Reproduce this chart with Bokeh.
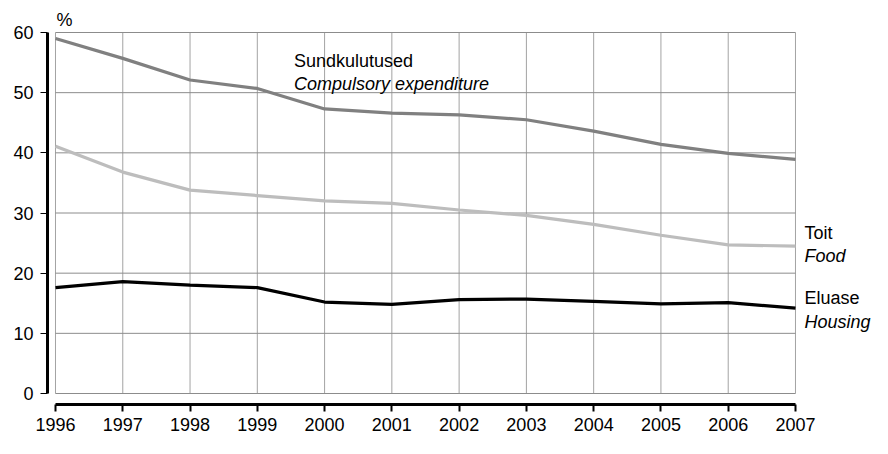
from bokeh.plotting import figure
from bokeh.models import Range1d, FixedTicker, Label, ColumnDataSource
from bokeh.embed import file_html
from bokeh.resources import INLINE

years = [1996, 1997, 1998, 1999, 2000, 2001, 2002, 2003, 2004, 2005, 2006, 2007]
compulsory = [59.0, 55.7, 52.1, 50.7, 47.3, 46.6, 46.3, 45.5, 43.6, 41.4, 39.9, 38.9]
food = [41.1, 36.8, 33.8, 32.9, 32.0, 31.6, 30.5, 29.6, 28.1, 26.3, 24.7, 24.5]
housing = [17.6, 18.6, 18.0, 17.6, 15.2, 14.8, 15.6, 15.7, 15.3, 14.9, 15.1, 14.2]
y_ticks = [0, 10, 20, 30, 40, 50, 60]

FONT = "Liberation Sans"
FS = "18px"

p = figure(width=872, height=438, output_backend="svg", toolbar_location=None,
           x_range=Range1d(1995.8811, 2008.145), y_range=Range1d(-1.828, 65.319),
           min_border_left=47, min_border_right=0, min_border_top=0, min_border_bottom=34)
p.outline_line_color = None
p.xgrid.grid_line_color = None
p.ygrid.grid_line_color = None
p.background_fill_color = "white"

# grid lines
p.segment(x0=years, y0=[y_ticks[0]] * len(years), x1=years, y1=[y_ticks[-1]] * len(years),
          line_color="#a3a3a3", line_width=1)
p.segment(x0=[years[0]] * len(y_ticks), y0=y_ticks, x1=[years[-1]] * len(y_ticks), y1=y_ticks,
          line_color="#8c8c8c", line_width=1)

src = ColumnDataSource(dict(x=years, c=compulsory, f=food, h=housing))
p.line("x", "c", source=src, line_color="#808080", line_width=3.2)
p.line("x", "f", source=src, line_color="#bdbdbd", line_width=3.2)
p.line("x", "h", source=src, line_color="#000000", line_width=3.2)

# axes
for ax, ticks, b in ((p.xaxis[0], years, (years[0], years[-1])), (p.yaxis[0], y_ticks, (y_ticks[0], y_ticks[-1]))):
    ax.ticker = FixedTicker(ticks=ticks)
    ax.bounds = b
    ax.axis_line_color = "black"
    ax.axis_line_width = 3
    ax.major_tick_line_color = "black"
    ax.major_tick_in = 0
    ax.major_tick_out = 7
    ax.minor_tick_line_color = None
    ax.major_label_text_font = FONT
    ax.major_label_text_font_size = FS
    ax.major_label_text_color = "black"
p.xaxis[0].major_tick_line_width = 2
p.yaxis[0].major_tick_line_width = 1
p.xaxis[0].major_label_standoff = 6
p.yaxis[0].major_label_standoff = 7

def lab(x, y, text, italic=False, x_offset=0, y_offset=0):
    p.add_layout(Label(x=x, y=y, text=text, x_offset=x_offset, y_offset=y_offset,
                       text_font=FONT, text_font_size=FS, text_color="black",
                       text_font_style="italic" if italic else "normal",
                       text_baseline="middle", text_align="left"))

lab(years[0], y_ticks[-1], "%", x_offset=1, y_offset=13)
lab(1999.545, 55.3, "Sundkulutused")
lab(1999.545, 51.5, "Compulsory expenditure", italic=True)
lab(years[-1], 26.6, "Toit", x_offset=9)
lab(years[-1], 22.8, "Food", italic=True, x_offset=9)
lab(years[-1], 15.8, "Eluase", x_offset=9)
lab(years[-1], 11.9, "Housing", italic=True, x_offset=9)

open("out.html", "w").write(file_html(p, INLINE))
